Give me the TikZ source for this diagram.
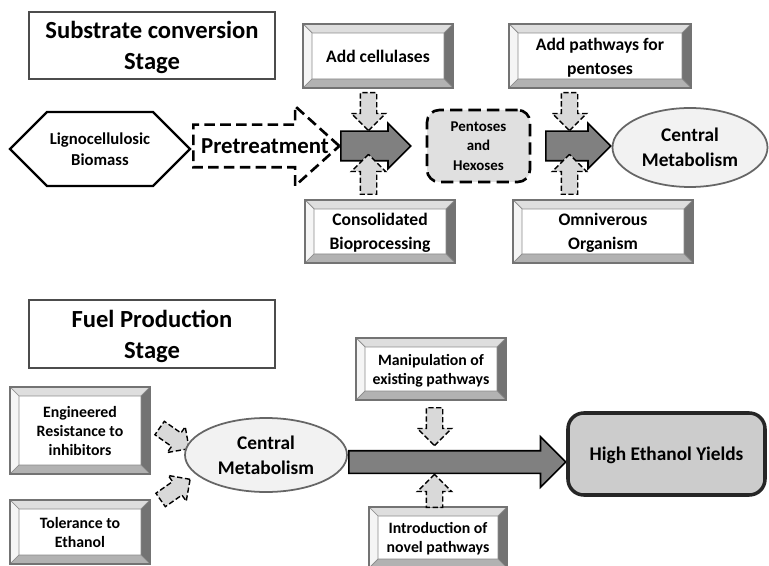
\documentclass[tikz,border=0pt]{standalone}
\usepackage{fontspec}
\setmainfont{Carlito}
\usetikzlibrary{shapes.arrows, shapes.symbols, shapes.geometric}

% width of the raised frame on the boxes
\newcommand{\bevw}{0.18}

\tikzset{
  stage/.style={draw=black!70, line width=1pt, fill=white, align=center, inner sep=0pt,
    text depth=-1pt, font=\fontsize{14}{17.5}\selectfont\bfseries},
  bevel/.style={draw=black!55, line width=0.6pt, fill=white, align=center, inner sep=0pt,
    text depth=-2pt, font=\fontsize{10}{13.5}\selectfont\bfseries,
    path picture={
      \coordinate (bsw) at (path picture bounding box.south west);
      \coordinate (bse) at (path picture bounding box.south east);
      \coordinate (bnw) at (path picture bounding box.north west);
      \coordinate (bne) at (path picture bounding box.north east);
      \filldraw[fill=black!13, draw=black!45, line width=0.4pt] (bnw) -- (bne) -- ([shift={(-\bevw,-\bevw)}]bne) -- ([shift={(\bevw,-\bevw)}]bnw) -- cycle;
      \filldraw[fill=black!4, draw=black!45, line width=0.4pt] (bnw) -- ([shift={(\bevw,-\bevw)}]bnw) -- ([shift={(\bevw,\bevw)}]bsw) -- (bsw) -- cycle;
      \filldraw[fill=black!55, draw=black!45, line width=0.4pt] (bne) -- (bse) -- ([shift={(-\bevw,\bevw)}]bse) -- ([shift={(-\bevw,-\bevw)}]bne) -- cycle;
      \filldraw[fill=black!30, draw=black!45, line width=0.4pt] (bsw) -- (bse) -- ([shift={(-\bevw,\bevw)}]bse) -- ([shift={(\bevw,\bevw)}]bsw) -- cycle;
    }},
  bevelsmall/.style={bevel, font=\fontsize{9}{10.8}\selectfont\bfseries},
  hexa/.style={signal, signal to=west and east, signal pointer angle=90, draw=black,
    line width=1.4pt, fill=white, align=center, inner sep=0pt,
    font=\fontsize{9.5}{12}\selectfont\bfseries},
  metab/.style={ellipse, draw=black!60, line width=1pt, fill=black!5, align=center,
    inner sep=0pt, text depth=-2pt, font=\fontsize{11}{14}\selectfont\bfseries},
  sugars/.style={draw=black, line width=1.5pt, dash pattern=on 7pt off 3.5pt,
    rounded corners=7pt, fill=black!12, align=center, inner sep=0pt, text depth=-1pt,
    font=\fontsize{8.5}{11}\selectfont\bfseries},
  goal/.style={draw=black!85, line width=2pt, rounded corners=9pt, fill=black!20,
    align=center, inner sep=0pt, text depth=-1pt, font=\fontsize{11}{14}\selectfont\bfseries},
  pretreat/.style={single arrow, draw=black, line width=1.5pt, dash pattern=on 6pt off 3pt,
    fill=white, single arrow head extend=0.37cm, single arrow tip angle=84,
    inner xsep=0pt, inner ysep=0.4cm, anchor=tail},
  flow/.style={single arrow, draw=black, line width=0.9pt, fill=black!50,
    single arrow tip angle=90, anchor=tail},
  helper/.style={single arrow, draw=black, line width=0.8pt, dash pattern=on 3pt off 1.5pt,
    fill=black!15, single arrow tip angle=90, single arrow head extend=0.18cm,
    inner sep=0.15cm}
}

\begin{document}
\begin{tikzpicture}
\useasboundingbox (0,0) rectangle (15.38,-11.32);

% substrate conversion
\node[stage, minimum width=4.92cm, minimum height=1.34cm] (stage1) at (3.04,-0.91) {Substrate conversion\\Stage};
\node[hexa, minimum width=3.6cm, minimum height=1.48cm] (biomass) at (2.0,-2.98) {Lignocellulosic\\Biomass};
\node[pretreat, minimum height=2.92cm] (pretreat) at (3.84,-2.92) {};
\node[font=\fontsize{13}{14}\selectfont\bfseries, inner sep=0pt] (pretreattext) at (5.3,-2.92) {Pretreatment};
\node[flow, minimum height=1.4cm, inner sep=0.28cm, single arrow head extend=0.16cm] (flow1) at (6.8,-2.92) {};

\node[bevel, minimum width=3.0cm, minimum height=1.28cm] (cellulase) at (7.56,-1.12) {Add cellulases};
\node[bevel, minimum width=3.0cm, minimum height=1.26cm] (cbp) at (7.6,-4.63) {Consolidated\\Bioprocessing};
\node[helper, shape border rotate=270, anchor=tail, minimum height=0.76cm] (down1) at (7.37,-1.84) {};
\node[helper, shape border rotate=90, anchor=tail, minimum height=0.8cm] (up1) at (7.37,-3.9) {};

\node[sugars, minimum width=2.06cm, minimum height=1.44cm] (sugars) at (9.57,-2.92) {Pentoses\\and\\Hexoses};
\node[flow, minimum height=1.3cm, inner sep=0.28cm, single arrow head extend=0.16cm] (flow2) at (10.9,-2.92) {};

\node[bevel, minimum width=3.64cm, minimum height=1.28cm] (pentpath) at (12.0,-1.12) {Add pathways for\\pentoses};
\node[bevel, minimum width=3.6cm, minimum height=1.26cm] (omni) at (12.06,-4.63) {Omniverous\\Organism};
\node[helper, shape border rotate=270, anchor=tail, minimum height=0.76cm] (down2) at (11.39,-1.84) {};
\node[helper, shape border rotate=90, anchor=tail, minimum height=0.8cm] (up2) at (11.39,-3.9) {};

\node[metab, minimum width=3.1cm, minimum height=1.58cm] (metab1) at (13.8,-2.95) {Central\\Metabolism};

% fuel production
\node[stage, minimum width=4.92cm, minimum height=1.36cm] (stage2) at (3.04,-6.68) {Fuel Production\\Stage};
\node[bevelsmall, minimum width=2.8cm, minimum height=1.74cm] (resist) at (1.6,-8.61) {Engineered\\Resistance to\\inhibitors};
\node[bevelsmall, minimum width=2.8cm, minimum height=1.28cm] (toler) at (1.6,-10.64) {Tolerance to\\Ethanol};
\node[helper, rotate=-35, minimum height=0.72cm, single arrow head extend=0.15cm] (diag1) at (3.42,-8.72) {};
\node[helper, rotate=35, minimum height=0.72cm, single arrow head extend=0.15cm] (diag2) at (3.44,-9.84) {};
\node[metab, minimum width=3.24cm, minimum height=1.48cm] (metab2) at (5.32,-9.1) {Central\\Metabolism};

\node[flow, minimum height=4.34cm, inner sep=0.21cm, single arrow head extend=0.28cm] (flow3) at (6.96,-9.24) {};
\node[bevelsmall, minimum width=3.0cm, minimum height=1.24cm] (manip) at (8.62,-7.38) {Manipulation of\\existing pathways};
\node[bevelsmall, minimum width=2.76cm, minimum height=1.22cm] (novel) at (8.76,-10.75) {Introduction of\\novel pathways};
\node[helper, shape border rotate=270, anchor=tail, minimum height=0.76cm] (down3) at (8.69,-8.14) {};
\node[helper, shape border rotate=90, anchor=tail, minimum height=0.66cm] (up3) at (8.69,-10.16) {};

\node[goal, minimum width=3.94cm, minimum height=1.64cm] (yield) at (13.33,-9.08) {High Ethanol Yields};
\end{tikzpicture}
\end{document}
